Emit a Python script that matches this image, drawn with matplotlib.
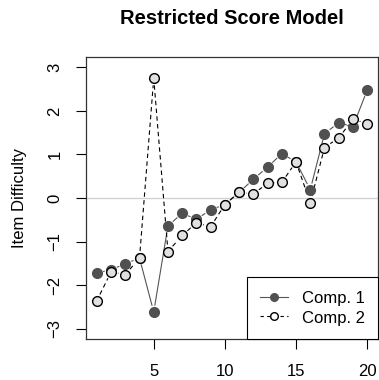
import matplotlib.pyplot as plt
import numpy as np

plt.rcParams['font.family'] = ['Liberation Sans', 'DejaVu Sans']

items = np.arange(1, 21)
comp1 = [-1.72, -1.65, -1.51, -1.38, -2.62, -0.64, -0.35, -0.49, -0.27, -0.15,
         0.13, 0.43, 0.71, 1.02, 0.83, 0.19, 1.48, 1.73, 1.64, 2.48]
comp2 = [-2.36, -1.70, -1.76, -1.38, 2.75, -1.23, -0.86, -0.57, -0.66, -0.15,
         0.13, 0.09, 0.34, 0.36, 0.83, -0.11, 1.16, 1.38, 1.81, 1.71]

fig = plt.figure(figsize=(3.79, 3.8), dpi=100)
ax = fig.add_axes([86 / 379, 41 / 380, 292 / 379, 282 / 380])
ax.set_xlim(0.24, 20.76)
ax.set_ylim(-3.24, 3.24)

ax.axhline(0, color='#d3d3d3', lw=1, zorder=0)


def gapped_line(x, y, gap, **kw):
    # draw segments between points with a small gap at each point (like type="b")
    fig.canvas.draw()
    pts = ax.transData.transform(np.column_stack([x, y]))
    inv = ax.transData.inverted()
    for p, q in zip(pts[:-1], pts[1:]):
        d = q - p
        n = np.hypot(*d)
        if n <= 2 * gap:
            continue
        u = d / n
        a = inv.transform(p + u * gap)
        b = inv.transform(q - u * gap)
        ax.plot([a[0], b[0]], [a[1], b[1]], **kw)


gapped_line(items, comp1, 7, color='#555555', lw=0.8, ls='-', zorder=2)
gapped_line(items, comp2, 7, color='black', lw=0.8, ls=(0, (4, 3)), zorder=2)

ax.plot(items, comp1, ls='none', marker='o', ms=7, mfc='#505050', mec='#505050', zorder=3)
ax.plot(items, comp2, ls='none', marker='o', ms=7, mfc='#e0e0e0', mec='black', mew=1, zorder=4)

ax.set_xticks([5, 10, 15, 20])
ax.set_yticks([-3, -2, -1, 0, 1, 2, 3])
ax.tick_params(direction='out', length=7, width=0.8, labelsize=12)
ax.tick_params(axis='x', pad=11)
ax.tick_params(axis='y', pad=10)
for lab in ax.get_yticklabels():
    lab.set_rotation(90)
    lab.set_va('center')
for s in ax.spines.values():
    s.set_linewidth(0.9)
    s.set_color('#333333')

ax.set_ylabel('Item Difficulty', fontsize=12, labelpad=15)
ax.set_title('Restricted Score Model', fontsize=14.5, fontweight='bold', pad=24)

h1, = ax.plot([], [], color='#555555', lw=0.8, marker='o', ms=5.5, mfc='#505050', mec='#505050')
h2, = ax.plot([], [], color='black', lw=0.8, ls=(0, (3, 3)), marker='o', ms=5.5,
              mfc='white', mec='black')
leg = ax.legend([h1, h2], ['Comp. 1', 'Comp. 2'], loc='lower right', fontsize=12,
                borderaxespad=0, fancybox=False, framealpha=1, edgecolor='black',
                handlelength=1.7, handletextpad=0.8, labelspacing=0.25, borderpad=0.8,
                handleheight=0.9)
leg.get_frame().set_linewidth(0.8)

fig.savefig('out.png', dpi=100)
